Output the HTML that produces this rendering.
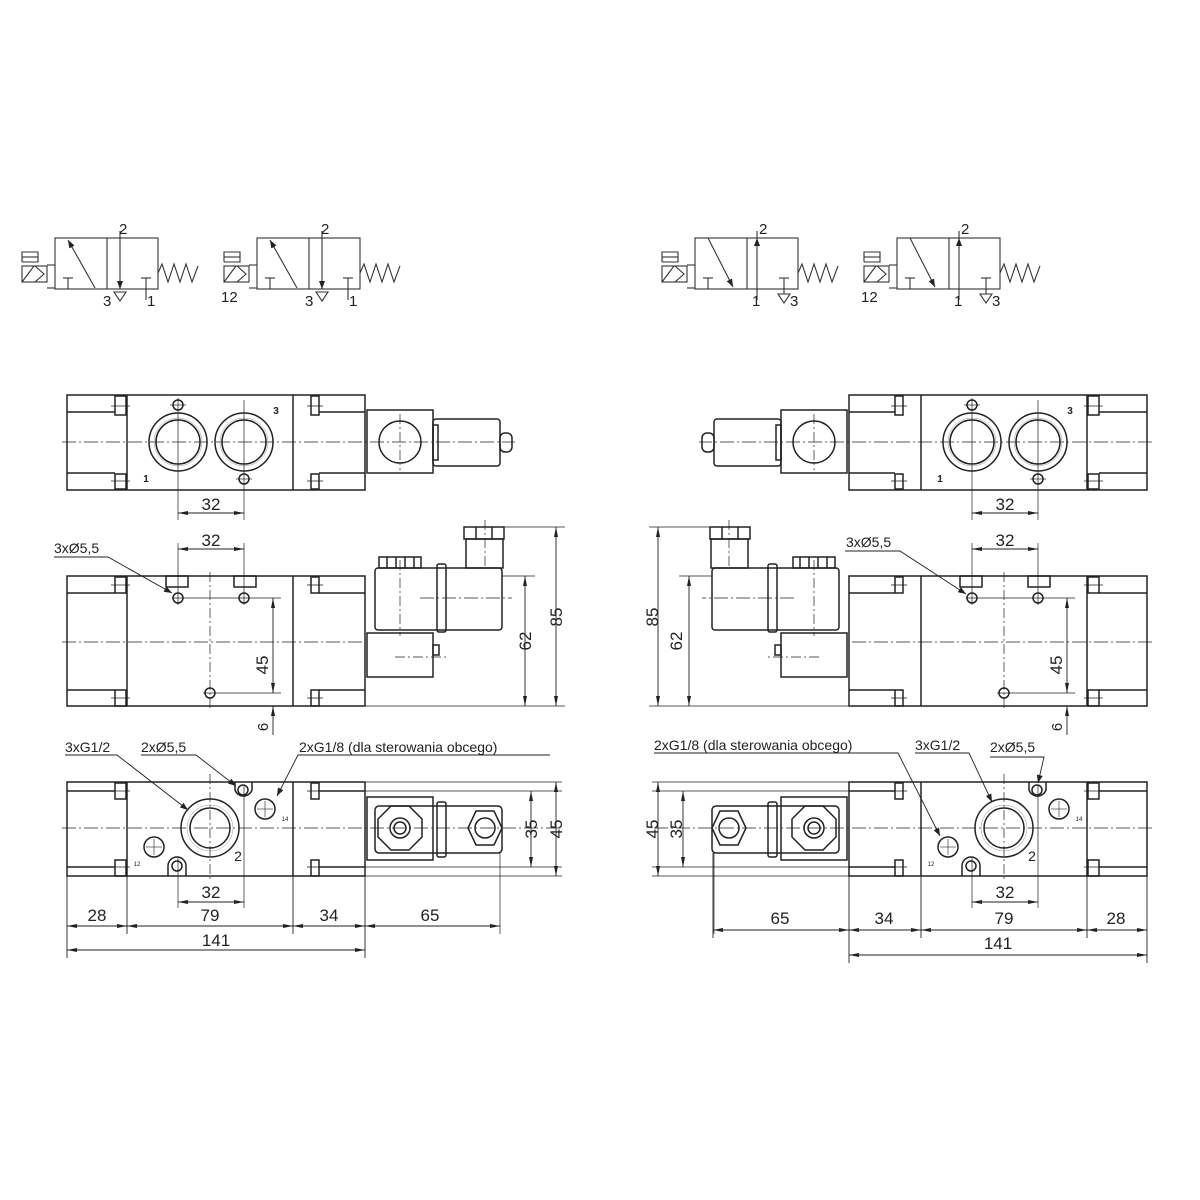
<!DOCTYPE html>
<html><head><meta charset="utf-8"><style>
html,body{margin:0;padding:0;background:#fff}
svg{display:block}
text{font-family:"Liberation Sans",sans-serif;fill:#222}
</style></head><body>
<svg width="1200" height="1200" viewBox="0 0 1200 1200" xmlns="http://www.w3.org/2000/svg">
<defs>
<marker id="a" viewBox="0 0 10 4" refX="10" refY="2" markerWidth="10" markerHeight="4" markerUnits="userSpaceOnUse" orient="auto-start-reverse"><path d="M0,0 L10,2 L0,4 Z" fill="#222"/></marker>
<marker id="s" viewBox="0 0 8 6" refX="8" refY="3" markerWidth="8" markerHeight="6" markerUnits="userSpaceOnUse" orient="auto-start-reverse"><path d="M0,0 L8,3 L0,6 Z" fill="#222"/></marker>

<g id="symbase" fill="none" stroke="#333" stroke-width="1.1">
  <rect x="55" y="238" width="103" height="51"/>
  <line x1="107" y1="238" x2="107" y2="289"/>
  <polyline points="158,273 162,264 168,282 174,264 180,282 186,264 192,282 198,266"/>
  <rect x="22" y="266" width="25" height="16"/>
  <line x1="22" y1="282" x2="34" y2="266"/>
  <polyline points="35,266 44,274 35,282"/>
  <polyline points="47,265 55,265"/><polyline points="47,288 55,288"/>
  <polyline points="22,262 22,252 38,252 38,262 22,262"/>
  <line x1="22" y1="257" x2="38" y2="257"/>
  <polyline points="63,278 73,278"/><line x1="68" y1="278" x2="68" y2="289"/>
</g>

<g id="caps" fill="none" stroke="#222" stroke-width="1.5">
  <rect x="67" y="395" width="298" height="95"/>
  <line x1="127" y1="395" x2="127" y2="490"/><line x1="293" y1="395" x2="293" y2="490"/>
  <line x1="67" y1="412" x2="115" y2="412"/><line x1="67" y1="473" x2="115" y2="473"/>
  <line x1="319" y1="412" x2="365" y2="412"/><line x1="319" y1="473" x2="365" y2="473"/>
  <rect x="115" y="396" width="11" height="19"/><rect x="115" y="474" width="11" height="15"/>
  <rect x="311" y="396" width="8" height="19"/><rect x="311" y="474" width="8" height="15"/>
  <line x1="111" y1="406" x2="130" y2="406" stroke-width=".8"/><line x1="111" y1="481" x2="130" y2="481" stroke-width=".8"/>
  <line x1="307" y1="406" x2="323" y2="406" stroke-width=".8"/><line x1="307" y1="481" x2="323" y2="481" stroke-width=".8"/>
  <rect x="367" y="410" width="66" height="63"/>
  <circle cx="400" cy="442" r="21"/>
  <rect x="433" y="419" width="67" height="47" rx="3"/>
  <rect x="433" y="425" width="5" height="35"/>
  <rect x="500" y="433" width="12" height="19" rx="5"/>
  <line x1="62" y1="442" x2="515" y2="442" stroke-width=".7" stroke-dasharray="14,3,2,3"/>
  <line x1="400" y1="414" x2="400" y2="470" stroke-width=".7" stroke-dasharray="10,3,2,3"/>
  <rect x="67" y="576" width="298" height="130"/>
  <line x1="127" y1="576" x2="127" y2="706"/><line x1="293" y1="576" x2="293" y2="706"/>
  <line x1="67" y1="593" x2="115" y2="593"/><line x1="67" y1="690" x2="115" y2="690"/>
  <line x1="319" y1="593" x2="365" y2="593"/><line x1="319" y1="690" x2="365" y2="690"/>
  <rect x="115" y="577" width="11" height="16"/><rect x="115" y="690" width="11" height="16"/>
  <rect x="311" y="577" width="8" height="16"/><rect x="311" y="690" width="8" height="16"/>
  <line x1="111" y1="585" x2="130" y2="585" stroke-width=".8"/><line x1="111" y1="698" x2="130" y2="698" stroke-width=".8"/>
  <line x1="307" y1="585" x2="323" y2="585" stroke-width=".8"/><line x1="307" y1="698" x2="323" y2="698" stroke-width=".8"/>
  <line x1="62" y1="642" x2="365" y2="642" stroke-width=".7" stroke-dasharray="14,3,2,3"/>
  <rect x="375" y="568" width="127" height="62" rx="3"/>
  <rect x="437" y="564" width="9" height="68" rx="2"/>
  <rect x="379" y="557" width="42" height="11"/>
  <line x1="387" y1="557" x2="387" y2="568"/><line x1="396" y1="557" x2="396" y2="568"/><line x1="405" y1="557" x2="405" y2="568"/><line x1="414" y1="557" x2="414" y2="568"/>
  <rect x="466" y="539" width="37" height="29"/>
  <rect x="464" y="527" width="40" height="12"/>
  <line x1="476" y1="527" x2="476" y2="539"/><line x1="492" y1="527" x2="492" y2="539"/>
  <rect x="367" y="633" width="66" height="44"/>
  <rect x="433" y="645" width="6" height="10"/>
  <line x1="420" y1="598" x2="512" y2="598" stroke-width=".7" stroke-dasharray="14,3,2,3"/>
  <line x1="485" y1="520" x2="485" y2="566" stroke-width=".7" stroke-dasharray="10,3,2,3"/>
  <line x1="400" y1="560" x2="400" y2="636" stroke-width=".7" stroke-dasharray="10,3,2,3"/>
  <line x1="395" y1="657" x2="447" y2="657" stroke-width=".7" stroke-dasharray="10,3,2,3"/>
  <line x1="504" y1="527" x2="565" y2="527" stroke-width=".7"/>
  <line x1="502" y1="576" x2="535" y2="576" stroke-width=".7"/>
  <line x1="365" y1="706" x2="565" y2="706" stroke-width=".7"/>
  <line x1="525" y1="576" x2="525" y2="706" stroke-width=".9" marker-start="url(#a)" marker-end="url(#a)"/>
  <line x1="556" y1="527" x2="556" y2="706" stroke-width=".9" marker-start="url(#a)" marker-end="url(#a)"/>
  <rect x="67" y="782" width="298" height="94"/>
  <line x1="127" y1="782" x2="127" y2="876"/><line x1="293" y1="782" x2="293" y2="876"/>
  <line x1="67" y1="791" x2="115" y2="791"/><line x1="67" y1="867" x2="115" y2="867"/>
  <line x1="319" y1="791" x2="365" y2="791"/><line x1="319" y1="867" x2="365" y2="867"/>
  <line x1="365" y1="791" x2="562" y2="791" stroke-width=".7"/><line x1="365" y1="867" x2="562" y2="867" stroke-width=".7"/>
  <line x1="365" y1="782" x2="562" y2="782" stroke-width=".7"/><line x1="365" y1="876" x2="562" y2="876" stroke-width=".7"/>
  <rect x="115" y="783" width="11" height="16"/><rect x="115" y="860" width="11" height="16"/>
  <rect x="311" y="783" width="8" height="16"/><rect x="311" y="860" width="8" height="16"/>
  <line x1="111" y1="791" x2="130" y2="791" stroke-width=".8"/><line x1="111" y1="867" x2="130" y2="867" stroke-width=".8"/>
  <line x1="307" y1="791" x2="323" y2="791" stroke-width=".8"/><line x1="307" y1="867" x2="323" y2="867" stroke-width=".8"/>
  <line x1="62" y1="828" x2="562" y2="828" stroke-width=".7" stroke-dasharray="14,3,2,3"/>
  <rect x="367" y="797" width="66" height="63"/>
  <rect x="375" y="806" width="127" height="47" rx="4"/>
  <rect x="437" y="802" width="9" height="55" rx="2"/>
  <polygon points="391,806 409,806 422,819 422,837 409,850 391,850 378,837 378,819"/>
  <circle cx="400" cy="828" r="10"/><circle cx="400" cy="828" r="6"/>
  <polygon points="476,811 494,811 502,828 494,845 476,845 468,828"/>
  <circle cx="485" cy="828" r="10"/>
  <line x1="531" y1="791" x2="531" y2="867" stroke-width=".9" marker-start="url(#a)" marker-end="url(#a)"/>
  <line x1="556" y1="782" x2="556" y2="876" stroke-width=".9" marker-start="url(#a)" marker-end="url(#a)"/>
  <line x1="500" y1="853" x2="500" y2="934" stroke-width=".7"/>
</g>

<g id="ctr" fill="none" stroke="#222" stroke-width="1.5">
  <circle cx="178" cy="442" r="29"/><circle cx="178" cy="442" r="22"/><circle cx="178" cy="442" r="24" stroke-width=".5" stroke="#999"/>
  <circle cx="244" cy="442" r="29"/><circle cx="244" cy="442" r="22"/><circle cx="244" cy="442" r="24" stroke-width=".5" stroke="#999"/>
  <circle cx="178" cy="405" r="5"/><circle cx="244" cy="479" r="5"/>
  <line x1="178" y1="398" x2="178" y2="520" stroke-width=".7"/>
  <line x1="244" y1="400" x2="244" y2="520" stroke-width=".7"/>
  <line x1="170" y1="405" x2="186" y2="405" stroke-width=".7"/><line x1="236" y1="479" x2="252" y2="479" stroke-width=".7"/>
  <line x1="178" y1="513" x2="244" y2="513" stroke-width=".9" marker-start="url(#a)" marker-end="url(#a)"/>
  <text x="276" y="414" font-size="10" font-weight="bold" stroke="none" text-anchor="middle">3</text>
  <text x="146" y="482" font-size="10" font-weight="bold" stroke="none" text-anchor="middle">1</text>
  <text x="211" y="510" font-size="17" stroke="none" text-anchor="middle">32</text>
  <rect x="166" y="576" width="22" height="11"/><rect x="234" y="576" width="22" height="11"/>
  <circle cx="178" cy="598" r="5"/><circle cx="244" cy="598" r="5"/><circle cx="210" cy="693" r="5"/>
  <line x1="178" y1="543" x2="178" y2="605" stroke-width=".7"/><line x1="244" y1="543" x2="244" y2="605" stroke-width=".7"/>
  <line x1="210" y1="572" x2="210" y2="708" stroke-width=".7" stroke-dasharray="10,3,2,3"/>
  <line x1="172" y1="598" x2="281" y2="598" stroke-width=".7"/>
  <line x1="203" y1="693" x2="281" y2="693" stroke-width=".7"/>
  <line x1="178" y1="549" x2="244" y2="549" stroke-width=".9" marker-start="url(#a)" marker-end="url(#a)"/>
  <line x1="273" y1="598" x2="273" y2="693" stroke-width=".9" marker-start="url(#a)" marker-end="url(#a)"/>
  <line x1="273" y1="706" x2="273" y2="735" stroke-width=".9" marker-start="url(#a)"/>
  <text x="211" y="546" font-size="17" stroke="none" text-anchor="middle">32</text>
  <text x="268" y="665" font-size="17" stroke="none" text-anchor="middle" transform="rotate(-90 268 665)">45</text>
  <text x="268" y="727" font-size="15" stroke="none" text-anchor="middle" transform="rotate(-90 268 727)">6</text>
  <circle cx="210" cy="828" r="29"/><circle cx="210" cy="828" r="20"/><circle cx="210" cy="828" r="23" stroke-width=".5" stroke="#999"/>
  <path d="M235,782 L235,790 A9,9 0 0 0 252,790 L252,782"/>
  <circle cx="243" cy="790" r="5"/>
  <path d="M168,876 L168,866 A9,9 0 0 1 186,866 L186,876"/>
  <circle cx="177" cy="866" r="5"/>
  <circle cx="154" cy="847" r="10"/><circle cx="265" cy="809" r="10"/>
  <line x1="146" y1="847" x2="162" y2="847" stroke-width=".6"/><line x1="154" y1="839" x2="154" y2="855" stroke-width=".6"/>
  <line x1="257" y1="809" x2="273" y2="809" stroke-width=".6"/><line x1="265" y1="801" x2="265" y2="817" stroke-width=".6"/>
  <line x1="210" y1="774" x2="210" y2="882" stroke-width=".7" stroke-dasharray="10,3,2,3"/>
  <line x1="178" y1="858" x2="178" y2="908" stroke-width=".7"/>
  <line x1="244" y1="785" x2="244" y2="908" stroke-width=".7"/>
  <line x1="178" y1="902" x2="244" y2="902" stroke-width=".9" marker-start="url(#a)" marker-end="url(#a)"/>
  <text x="211" y="898" font-size="17" stroke="none" text-anchor="middle">32</text>
  <text x="238" y="861" font-size="14" stroke="none" text-anchor="middle">2</text>
  <text x="285" y="821" font-size="6" stroke="none" text-anchor="middle">14</text>
  <text x="137" y="866" font-size="6" stroke="none" text-anchor="middle">12</text>
</g>
</defs>

<g fill="none" stroke="#333" stroke-width="1.1">
  <use href="#symbase"/>
  <use href="#symbase" transform="translate(202,0)"/>
  <use href="#symbase" transform="translate(640,0)"/>
  <use href="#symbase" transform="translate(842,0)"/>
  <g id="s1">
    <line x1="95" y1="288" x2="68" y2="240" marker-end="url(#s)"/>
    <line x1="120" y1="231" x2="120" y2="289" marker-end="url(#s)"/>
    <polygon points="114,292 126,292 120,301"/>
    <line x1="141" y1="278" x2="151" y2="278"/><line x1="146" y1="278" x2="146" y2="300"/>
  </g>
  <use href="#s1" transform="translate(202,0)"/>
  <g id="s3">
    <line x1="708" y1="238" x2="733" y2="287" marker-end="url(#s)"/>
    <line x1="757" y1="300" x2="757" y2="238" marker-end="url(#s)"/>
    <line x1="757" y1="238" x2="757" y2="231"/>
    <line x1="779" y1="278" x2="789" y2="278"/><line x1="784" y1="278" x2="784" y2="294"/>
    <polygon points="778,294 790,294 784,303"/>
  </g>
  <use href="#s3" transform="translate(202,0)"/>
</g>
<g font-size="15" fill="#333">
  <text x="119" y="234">2</text><text x="103" y="306">3</text><text x="147" y="306">1</text>
  <text x="321" y="234">2</text><text x="305" y="306">3</text><text x="349" y="306">1</text><text x="221" y="302">12</text>
  <text x="759" y="234">2</text><text x="752" y="306">1</text><text x="790" y="306">3</text>
  <text x="961" y="234">2</text><text x="954" y="306">1</text><text x="992" y="306">3</text><text x="861" y="302">12</text>
</g>

<use href="#caps"/>
<use href="#ctr"/>
<use href="#caps" transform="matrix(-1,0,0,1,1214,0)"/>
<use href="#ctr" transform="translate(794,0)"/>

<g font-size="17" text-anchor="middle">
  <text x="531" y="641" transform="rotate(-90 531 641)">62</text>
  <text x="562" y="617" transform="rotate(-90 562 617)">85</text>
  <text x="537" y="829" transform="rotate(-90 537 829)">35</text>
  <text x="562" y="829" transform="rotate(-90 562 829)">45</text>
  <text x="97" y="921">28</text><text x="210" y="921">79</text><text x="329" y="921">34</text><text x="430" y="921">65</text>
  <text x="216" y="946">141</text>
  <text x="682" y="641" transform="rotate(-90 682 641)">62</text>
  <text x="658" y="617" transform="rotate(-90 658 617)">85</text>
  <text x="682" y="829" transform="rotate(-90 682 829)">35</text>
  <text x="658" y="829" transform="rotate(-90 658 829)">45</text>
  <text x="780" y="924">65</text><text x="884" y="924">34</text><text x="1004" y="924">79</text><text x="1116" y="924">28</text>
  <text x="998" y="949">141</text>
</g>
<g fill="none" stroke="#222" stroke-width=".9">
  <line x1="67" y1="876" x2="67" y2="958"/><line x1="127" y1="876" x2="127" y2="934"/>
  <line x1="293" y1="876" x2="293" y2="934"/><line x1="365" y1="876" x2="365" y2="958"/>
  <line x1="67" y1="926" x2="127" y2="926" marker-start="url(#a)" marker-end="url(#a)"/>
  <line x1="127" y1="926" x2="293" y2="926" marker-start="url(#a)" marker-end="url(#a)"/>
  <line x1="293" y1="926" x2="365" y2="926" marker-start="url(#a)" marker-end="url(#a)"/>
  <line x1="365" y1="926" x2="500" y2="926" marker-start="url(#a)" marker-end="url(#a)"/>
  <line x1="67" y1="950" x2="365" y2="950" marker-start="url(#a)" marker-end="url(#a)"/>
  <line x1="1147" y1="876" x2="1147" y2="963"/><line x1="1087" y1="876" x2="1087" y2="938"/>
  <line x1="921" y1="876" x2="921" y2="938"/><line x1="849" y1="876" x2="849" y2="963"/>
  <line x1="713" y1="853" x2="713" y2="938"/>
  <line x1="713" y1="930" x2="849" y2="930" marker-start="url(#a)" marker-end="url(#a)"/>
  <line x1="849" y1="930" x2="921" y2="930" marker-start="url(#a)" marker-end="url(#a)"/>
  <line x1="921" y1="930" x2="1087" y2="930" marker-start="url(#a)" marker-end="url(#a)"/>
  <line x1="1087" y1="930" x2="1147" y2="930" marker-start="url(#a)" marker-end="url(#a)"/>
  <line x1="849" y1="955" x2="1147" y2="955" marker-start="url(#a)" marker-end="url(#a)"/>
  <polyline points="54,557 108,557 172,593" marker-end="url(#s)"/>
  <polyline points="65,755 117,755 188,810" marker-end="url(#s)"/>
  <polyline points="141,755 196,755 236,786" marker-end="url(#s)"/>
  <polyline points="550,755 298,755 277,796" marker-end="url(#s)"/>
  <polyline points="845,551 900,551 966,594" marker-end="url(#s)"/>
  <polyline points="654,753 898,753 940,836" marker-end="url(#s)"/>
  <polyline points="915,753 969,753 992,802" marker-end="url(#s)"/>
  <polyline points="990,757 1044,757 1038,783" marker-end="url(#s)"/>
</g>
<g font-size="14" fill="#222">
  <text x="54" y="553">3xØ5,5</text>
  <text x="65" y="752">3xG1/2</text>
  <text x="141" y="752">2xØ5,5</text>
  <text x="299" y="752">2xG1/8 (dla sterowania obcego)</text>
  <text x="846" y="547">3xØ5,5</text>
  <text x="654" y="750">2xG1/8 (dla sterowania obcego)</text>
  <text x="915" y="750">3xG1/2</text>
  <text x="990" y="752">2xØ5,5</text>
</g>
</svg>
</body></html>
